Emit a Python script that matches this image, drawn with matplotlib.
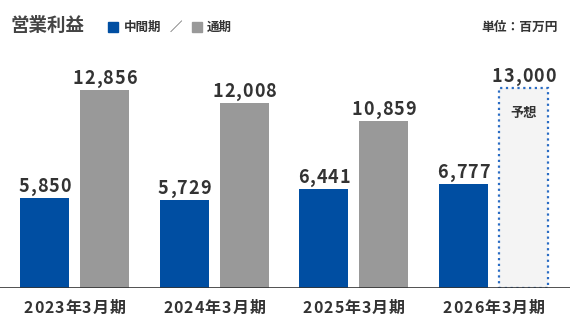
import numpy as np
import matplotlib.pyplot as plt

plt.rcParams['font.family'] = ['Noto Sans CJK JP', 'DejaVu Sans']

categories = ['2023年3月期', '2024年3月期', '2025年3月期', '2026年3月期']
interim = [5850, 5729, 6441, 6777]
full_year = [12856, 12008, 10859, 13000]
forecast = [False, False, False, True]

BLUE = '#004ea2'
GRAY = '#999999'
TEXT = '#333333'
PX = 65  # data units per pixel

fig = plt.figure(figsize=(5.7, 3.3), dpi=100)
# axes covers the full width, baseline at y=288px
ax = fig.add_axes([0, 42 / 330, 1, 248 / 330])
ax.set_xlim(-0.533, 3.547)
ax.set_ylim(0, 248 * PX)
ax.axis('off')
renderer = fig.canvas.get_renderer()


def text_width(s, **kw):
    if not s:
        return 0.0
    t = fig.text(0, 0, s, **kw)
    wd = t.get_window_extent(renderer).width
    t.remove()
    return wd


def spaced_text(x, y, s, spacing, dy=0, va='baseline', **kw):
    # draw a string char by char with extra letter spacing (pixels)
    pref = [text_width(s[:k], **kw) for k in range(len(s) + 1)]
    total = pref[-1] + spacing * (len(s) - 1)
    for k, ch in enumerate(s):
        cx = (pref[k] + pref[k + 1]) / 2 + spacing * k - total / 2
        ax.annotate(ch, (x, y), xytext=(cx, dy), textcoords='offset pixels',
                    ha='center', va=va, annotation_clip=False, **kw)


x = np.arange(len(categories))
w = 0.351
off = 0.215

ax.bar(x - off, interim, w, color=BLUE)
for i in range(len(x)):
    if forecast[i]:
        ax.bar(x[i] + off, full_year[i], w, color='#f4f4f4', edgecolor='#2a6cc4',
               linewidth=1.6, linestyle=(0, (1, 1.6)))
        ax.text(x[i] + off, full_year[i] - 25 * PX, '予想', ha='center', va='center',
                fontsize=9.5, fontweight='bold', color=TEXT)
    else:
        ax.bar(x[i] + off, full_year[i], w, color=GRAY)

num_style = dict(fontsize=13, fontweight='bold', color=TEXT)
for i in range(len(x)):
    spaced_text(x[i] - off, interim[i], f'{interim[i]:,}', 1.0, dy=6, **num_style)
    spaced_text(x[i] + off, full_year[i], f'{full_year[i]:,}', 1.0, dy=6, **num_style)

ax.axhline(0, color=TEXT, linewidth=1.2)

for i, c in enumerate(categories):
    spaced_text(x[i], 0, c, 1.0, dy=-20, va='center', fontsize=11.5,
                fontweight='bold', color=TEXT)

# title and legend
fig.text(11 / 570, 1 - 25 / 330, '営業利益', ha='left', va='center', fontsize=13.3,
         fontweight='bold', color='#444444')
fig.patches.append(plt.Rectangle((108 / 570, 1 - 32 / 330), 10 / 570, 10 / 330,
                                 transform=fig.transFigure, color=BLUE))
fig.text(124 / 570, 1 - 27 / 330, '中間期', ha='left', va='center', fontsize=9,
         fontweight='bold', color=TEXT)
fig.text(170 / 570, 1 - 27 / 330, '／', ha='left', va='center', fontsize=9, color=TEXT)
fig.patches.append(plt.Rectangle((192 / 570, 1 - 32 / 330), 10 / 570, 10 / 330,
                                 transform=fig.transFigure, color=GRAY))
fig.text(207 / 570, 1 - 27 / 330, '通期', ha='left', va='center', fontsize=9,
         fontweight='bold', color=TEXT)
fig.text(558 / 570, 1 - 27 / 330, '単位：百万円', ha='right', va='center', fontsize=9.2,
         fontweight='bold', color=TEXT)

fig.savefig('out.png', dpi=100)
